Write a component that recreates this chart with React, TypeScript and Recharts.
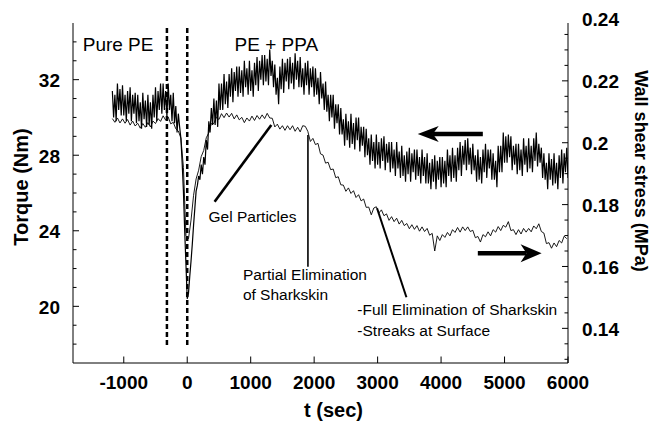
import React from 'react';
import { LineChart, Line, XAxis, YAxis, ReferenceLine, ReferenceDot } from 'recharts';

// Torque trace sampling times (s)
const torqueTimes = [
  -1180, -1160, -1140, -1120, -1100, -1080, -1060, -1040, -1020, -1000, -980, -960, -940, -920, -900, -880, -860, -840, -820, -800,
  -780, -760, -740, -720, -700, -680, -660, -640, -620, -600, -580, -560, -540, -520, -500, -480, -460, -440, -420, -400,
  -380, -360, -340, -320, -300, -280, -260, -240, -220, -200, -180, -160, -140, -120, -100, -80, -60, -40, -20, 0,
  20, 40, 60, 80, 100, 120, 140, 160, 180, 200, 220, 240, 260, 280, 300, 320, 340, 360, 380, 400,
  420, 440, 460, 480, 500, 520, 540, 560, 580, 600, 620, 640, 660, 680, 700, 720, 740, 760, 780, 800,
  820, 840, 860, 880, 900, 920, 940, 960, 980, 1000, 1020, 1040, 1060, 1080, 1100, 1120, 1140, 1160, 1180, 1200,
  1220, 1240, 1260, 1280, 1300, 1320, 1340, 1360, 1380, 1400, 1420, 1440, 1460, 1480, 1500, 1520, 1540, 1560, 1580, 1600,
  1620, 1640, 1660, 1680, 1700, 1720, 1740, 1760, 1780, 1800, 1820, 1840, 1860, 1880, 1900, 1920, 1940, 1960, 1980, 2000,
  2020, 2040, 2060, 2080, 2100, 2120, 2140, 2160, 2180, 2200, 2220, 2240, 2260, 2280, 2300, 2320, 2340, 2360, 2380, 2400,
  2420, 2440, 2460, 2480, 2500, 2520, 2540, 2560, 2580, 2600, 2620, 2640, 2660, 2680, 2700, 2720, 2740, 2760, 2780, 2800,
  2820, 2840, 2860, 2880, 2900, 2920, 2940, 2960, 2980, 3000, 3020, 3040, 3060, 3080, 3100, 3120, 3140, 3160, 3180, 3200,
  3220, 3240, 3260, 3280, 3300, 3320, 3340, 3360, 3380, 3400, 3420, 3440, 3460, 3480, 3500, 3520, 3540, 3560, 3580, 3600,
  3620, 3640, 3660, 3680, 3700, 3720, 3740, 3760, 3780, 3800, 3820, 3840, 3860, 3880, 3900, 3920, 3940, 3960, 3980, 4000,
  4020, 4040, 4060, 4080, 4100, 4120, 4140, 4160, 4180, 4200, 4220, 4240, 4260, 4280, 4300, 4320, 4340, 4360, 4380, 4400,
  4420, 4440, 4460, 4480, 4500, 4520, 4540, 4560, 4580, 4600, 4620, 4640, 4660, 4680, 4700, 4720, 4740, 4760, 4780, 4800,
  4820, 4840, 4860, 4880, 4900, 4920, 4940, 4960, 4980, 5000, 5020, 5040, 5060, 5080, 5100, 5120, 5140, 5160, 5180, 5200,
  5220, 5240, 5260, 5280, 5300, 5320, 5340, 5360, 5380, 5400, 5420, 5440, 5460, 5480, 5500, 5520, 5540, 5560, 5580, 5600,
  5620, 5640, 5660, 5680, 5700, 5720, 5740, 5760, 5780, 5800, 5820, 5840, 5860, 5880, 5900, 5920, 5940, 5960, 5980, 6000,
];

// Torque (Nm), left axis - noisy thick trace
const torque = [
  31.4, 30.0, 31.2, 29.8, 31.8, 30.4, 31.5, 30.1, 31.7, 30.1, 31.2, 29.8, 31.4, 30.2, 31.6, 29.8, 31.2, 30.2, 31.3, 29.7,
  31.2, 29.8, 30.8, 29.4, 31.3, 29.9, 30.9, 29.5, 31.2, 29.6, 30.8, 29.4, 31.2, 30.0, 31.6, 29.8, 31.4, 30.4, 31.8, 30.2,
  31.8, 30.4, 31.4, 30.0, 31.8, 30.4, 31.2, 29.8, 31.3, 29.7, 30.6, 29.2, 30.2, 29.5, 28.9, 27.6, 26.1, 24.0, 22.2, 20.4,
  20.7, 21.6, 22.4, 23.3, 24.3, 25.2, 26.1, 26.4, 26.9, 26.7, 27.5, 27.0, 27.9, 27.5, 28.8, 28.3, 29.8, 29.2, 30.5, 29.6,
  31.0, 29.6, 30.9, 29.5, 31.8, 30.4, 31.8, 30.4, 32.3, 30.7, 31.9, 30.5, 32.3, 31.1, 32.6, 30.8, 32.4, 31.4, 32.7, 31.1,
  32.7, 31.3, 32.5, 31.1, 33.0, 31.6, 32.6, 31.2, 33.0, 31.4, 32.5, 31.1, 32.9, 31.7, 33.2, 31.4, 33.0, 32.0, 33.3, 31.7,
  33.3, 31.9, 33.1, 31.7, 33.6, 32.2, 33.0, 31.6, 32.8, 31.2, 32.1, 30.7, 32.7, 31.5, 33.1, 31.3, 32.9, 31.9, 33.1, 31.5,
  33.2, 31.8, 32.9, 31.5, 33.4, 32.0, 33.0, 31.6, 33.2, 31.6, 32.6, 31.2, 32.9, 31.7, 33.0, 31.2, 32.6, 31.6, 32.7, 31.1,
  32.6, 31.2, 32.1, 30.7, 32.4, 31.0, 31.8, 30.4, 31.9, 30.3, 31.2, 29.8, 31.2, 30.0, 31.2, 29.4, 30.7, 29.7, 30.7, 29.1,
  30.5, 29.1, 29.9, 28.5, 30.2, 28.8, 29.8, 28.4, 30.2, 28.6, 29.7, 28.3, 30.0, 28.8, 30.0, 28.2, 29.5, 28.5, 29.5, 27.9,
  29.4, 28.0, 28.9, 27.5, 29.1, 27.7, 28.7, 27.3, 29.1, 27.5, 28.7, 27.3, 28.9, 27.7, 29.0, 27.2, 28.6, 27.6, 28.7, 27.1,
  28.7, 27.3, 28.3, 26.9, 28.7, 27.3, 28.2, 26.8, 28.5, 26.9, 28.0, 26.6, 28.2, 27.0, 28.4, 26.6, 28.1, 27.1, 28.3, 26.7,
  28.3, 26.9, 27.9, 26.5, 28.3, 26.9, 27.9, 26.5, 28.1, 26.5, 27.6, 26.2, 27.8, 26.6, 28.0, 26.2, 27.7, 26.7, 27.9, 26.3,
  27.9, 26.5, 27.7, 26.3, 28.3, 26.9, 28.0, 26.6, 28.4, 26.8, 28.0, 26.6, 28.4, 27.2, 28.7, 26.9, 28.5, 27.5, 28.8, 27.2,
  28.9, 27.5, 28.4, 27.0, 28.6, 27.2, 28.0, 26.6, 28.3, 26.7, 27.9, 26.5, 28.3, 27.1, 28.6, 26.8, 28.3, 27.3, 28.3, 26.7,
  28.1, 26.7, 27.7, 26.3, 28.5, 27.1, 28.5, 27.1, 29.2, 27.6, 29.0, 27.6, 29.1, 27.9, 29.0, 27.2, 28.5, 27.5, 28.6, 27.0,
  28.6, 27.2, 28.3, 26.9, 28.9, 27.5, 28.5, 27.1, 28.9, 27.3, 28.5, 27.1, 28.9, 27.7, 29.2, 27.4, 28.6, 27.6, 28.4, 26.8,
  28.1, 26.7, 27.6, 26.2, 28.1, 26.7, 27.8, 26.4, 28.1, 26.5, 27.6, 26.2, 28.0, 26.8, 28.3, 26.5, 28.1, 27.1, 28.4, 26.8,
];

// Wall shear stress trace sampling times (s)
const stressTimes = [
  -1180, -1140, -1100, -1060, -1020, -980, -940, -900, -860, -820,
  -780, -740, -700, -660, -620, -580, -540, -500, -460, -420,
  -380, -340, -300, -260, -220, -180, -140, -100, -60, -20,
  20, 60, 100, 140, 180, 220, 260, 300, 340, 380,
  420, 460, 500, 540, 580, 620, 660, 700, 740, 780,
  820, 860, 900, 940, 980, 1020, 1060, 1100, 1140, 1180,
  1220, 1260, 1300, 1340, 1380, 1420, 1460, 1500, 1540, 1580,
  1620, 1660, 1700, 1740, 1780, 1820, 1860, 1900, 1940, 1980,
  2020, 2060, 2100, 2140, 2180, 2220, 2260, 2300, 2340, 2380,
  2420, 2460, 2500, 2540, 2580, 2620, 2660, 2700, 2740, 2780,
  2820, 2860, 2900, 2940, 2980, 3020, 3060, 3100, 3140, 3180,
  3220, 3260, 3300, 3340, 3380, 3420, 3460, 3500, 3540, 3580,
  3620, 3660, 3700, 3740, 3780, 3820, 3860, 3900, 3940, 3980,
  4020, 4060, 4100, 4140, 4180, 4220, 4260, 4300, 4340, 4380,
  4420, 4460, 4500, 4540, 4580, 4620, 4660, 4700, 4740, 4780,
  4820, 4860, 4900, 4940, 4980, 5020, 5060, 5100, 5140, 5180,
  5220, 5260, 5300, 5340, 5380, 5420, 5460, 5500, 5540, 5580,
  5620, 5660, 5700, 5740, 5780, 5820, 5860, 5900, 5940, 5980,
];

// Wall shear stress (MPa), right axis - thin trace
const stress = [
  0.2078, 0.2066, 0.2080, 0.2064, 0.2077, 0.2063, 0.2075, 0.2057, 0.2070, 0.2054,
  0.2063, 0.2047, 0.2062, 0.2050, 0.2065, 0.2051, 0.2070, 0.2062, 0.2078, 0.2069,
  0.2087, 0.2073, 0.2083, 0.2061, 0.2066, 0.2045, 0.2038, 0.2015, 0.1920, 0.1700,
  0.1690, 0.1750, 0.1830, 0.1883, 0.1911, 0.1955, 0.1975, 0.2016, 0.2032, 0.2062,
  0.2062, 0.2083, 0.2075, 0.2094, 0.2081, 0.2096, 0.2083, 0.2095, 0.2077, 0.2090,
  0.2074, 0.2082, 0.2065, 0.2080, 0.2070, 0.2086, 0.2072, 0.2088, 0.2076, 0.2090,
  0.2078, 0.2095, 0.2080, 0.2079, 0.2051, 0.2060, 0.2044, 0.2055, 0.2040, 0.2055,
  0.2042, 0.2055, 0.2037, 0.2050, 0.2035, 0.2055, 0.2053, 0.2037, 0.2004, 0.2014,
  0.1994, 0.1998, 0.1964, 0.1960, 0.1934, 0.1937, 0.1913, 0.1915, 0.1887, 0.1890,
  0.1864, 0.1863, 0.1843, 0.1854, 0.1836, 0.1845, 0.1823, 0.1832, 0.1812, 0.1818,
  0.1791, 0.1792, 0.1767, 0.1789, 0.1793, 0.1773, 0.1783, 0.1764, 0.1770, 0.1749,
  0.1761, 0.1745, 0.1756, 0.1737, 0.1749, 0.1732, 0.1739, 0.1722, 0.1735, 0.1720,
  0.1732, 0.1714, 0.1728, 0.1713, 0.1723, 0.1701, 0.1707, 0.1650, 0.1699, 0.1684,
  0.1703, 0.1694, 0.1710, 0.1699, 0.1719, 0.1710, 0.1726, 0.1711, 0.1728, 0.1716,
  0.1728, 0.1713, 0.1717, 0.1693, 0.1697, 0.1679, 0.1703, 0.1696, 0.1712, 0.1699,
  0.1719, 0.1711, 0.1729, 0.1716, 0.1733, 0.1727, 0.1745, 0.1716, 0.1719, 0.1703,
  0.1719, 0.1705, 0.1723, 0.1711, 0.1723, 0.1712, 0.1731, 0.1722, 0.1738, 0.1713,
  0.1708, 0.1674, 0.1677, 0.1659, 0.1676, 0.1664, 0.1684, 0.1676, 0.1698, 0.1690,
];

const xDomain = [-1800, 6000];
const xTicks = [-1000, 0, 1000, 2000, 3000, 4000, 5000, 6000];
const torqueDomain = [17, 35];
const torqueTicks = [18, 19, 20, 21, 22, 23, 24, 25, 26, 27, 28, 29, 30, 31, 32, 33, 34];
const torqueLabels = [20, 24, 28, 32];
const stressDomain = [0.1288, 0.2387];
const stressTicks = [0.13, 0.135, 0.14, 0.145, 0.15, 0.155, 0.16, 0.165, 0.17, 0.175, 0.18, 0.185, 0.19, 0.195, 0.2, 0.205, 0.21, 0.215, 0.22, 0.225, 0.23, 0.235, 0.24];
const stressLabels = [0.14, 0.16, 0.18, 0.2, 0.22, 0.24];

// dashed boundaries between Pure PE and PE + PPA
const phaseLines = [-320, 0];
const phaseLineSpan = [34.73, 17.85];

const notes = [
  { text: 'Pure PE', t: -1647, v: 33.52, size: 19 },
  { text: 'PE + PPA', t: 746, v: 33.52, size: 19 },
  { text: 'Gel Particles', t: 336, v: 24.47, size: 15.5 },
  { text: 'Partial Elimination', t: 877, v: 21.37, size: 15.5 },
  { text: 'of Sharkskin', t: 877, v: 20.31, size: 15.5 },
  { text: '-Full Elimination of Sharkskin', t: 2681, v: 19.52, size: 15.5 },
  { text: '-Streaks at Surface', t: 2681, v: 18.43, size: 15.5 },
];

const pointers = [
  { t1: 431, v1: 25.54, t2: 1325, v2: 29.6, w: 2.6 },
  { t1: 1902, v1: 29.07, t2: 1902, v2: 22.1, w: 1.6 },
  { t1: 2991, v1: 25.19, t2: 3454, v2: 20.48, w: 2 },
];

const arrows = [
  { t1: 4658, t2: 3632, v: 29.12, halfH: 8 },
  { t1: 4579, t2: 5584, v: 22.81, halfH: 9 },
];

const torqueData = torqueTimes.map((t, i) => ({ t, torque: torque[i] }));
const stressData = stressTimes.map((t, i) => ({ t, stress: stress[i] }));

const FONT = '"Liberation Sans", Arial, Helvetica, sans-serif';
const isIn = (arr: number[], v: number) => arr.some((a) => Math.abs(a - v) < 1e-9);

function LeftTick(props: any) {
  const { x, y, payload } = props;
  const v = payload.value;
  const major = isIn(torqueLabels, v);
  return (
    <g>
      <line x1={x} x2={x + (major ? 6 : 3.5)} y1={y} y2={y} stroke="#000" strokeWidth={1} />
      {major && (
        <text x={x - 13} y={y + 1} textAnchor="end" dominantBaseline="central" fontFamily={FONT} fontWeight="bold" fontSize={19} fill="#000">
          {v}
        </text>
      )}
    </g>
  );
}

function RightTick(props: any) {
  const { x, y, payload } = props;
  const v = payload.value;
  const major = isIn(stressLabels, v);
  const inside = v <= stressDomain[1] && v >= stressDomain[0];
  return (
    <g>
      {inside && <line x1={x} x2={x - (major ? 6 : 3.5)} y1={y} y2={y} stroke="#000" strokeWidth={1} />}
      {major && (
        <text x={x + 14} y={y + 1} textAnchor="start" dominantBaseline="central" fontFamily={FONT} fontWeight="bold" fontSize={19} fill="#000">
          {String(Number(v.toFixed(3)))}
        </text>
      )}
    </g>
  );
}

function BottomTick(props: any) {
  const { x, y, payload } = props;
  return (
    <g>
      <line x1={x} x2={x} y1={y} y2={y - 6.5} stroke="#000" strokeWidth={1} />
      <text x={x} y={y + 19} textAnchor="middle" dominantBaseline="central" fontFamily={FONT} fontWeight="bold" fontSize={19} fill="#000">
        {payload.value}
      </text>
    </g>
  );
}

function TopTick(props: any) {
  const { x, y } = props;
  return <line x1={x} x2={x} y1={y} y2={y + 5.5} stroke="#000" strokeWidth={1} />;
}

function XTitle(p: any) {
  const vb = p.viewBox || { x: 73, y: 363, width: 495, height: 60 };
  return (
    <text x={vb.x + vb.width / 2 + 13} y={vb.y + 54} textAnchor="middle" fontFamily={FONT} fontWeight="bold" fontSize={20} fill="#000">
      t (sec)
    </text>
  );
}

function YLeftTitle(p: any) {
  const vb = p.viewBox || { x: 0, y: 23, width: 73, height: 340 };
  const cx = vb.x + 21;
  const cy = vb.y + vb.height / 2 - 6;
  return (
    <text x={cx} y={cy} transform={`rotate(-90 ${cx} ${cy})`} textAnchor="middle" dominantBaseline="central" fontFamily={FONT} fontWeight="bold" fontSize={20} fill="#000">
      Torque (Nm)
    </text>
  );
}

function YRightTitle(p: any) {
  const vb = p.viewBox || { x: 568, y: 23, width: 83, height: 340 };
  const cx = vb.x + 73;
  const cy = vb.y + 148;
  return (
    <text x={cx} y={cy} transform={`rotate(90 ${cx} ${cy})`} textAnchor="middle" dominantBaseline="central" fontFamily={FONT} fontWeight="bold" fontSize={18} fill="#000">
      Wall shear stress (MPa)
    </text>
  );
}

const noteLabel = (text: string, size: number) => (p: any) => {
  const vb = p.viewBox || { x: 0, y: 0 };
  return (
    <text x={vb.x} y={vb.y} fontFamily={FONT} fontSize={size} fill="#000">
      {text}
    </text>
  );
};

const arrowShape = (halfH: number) => (p: any) => {
  const { x1, y1, x2, y2 } = p;
  const dx = x2 - x1;
  const dy = y2 - y1;
  const L = Math.hypot(dx, dy) || 1;
  const ux = dx / L;
  const uy = dy / L;
  const px = -uy;
  const py = ux;
  const headLen = 21;
  const bx = x2 - ux * headLen;
  const by = y2 - uy * headLen;
  const nx = x2 - ux * headLen * 0.72;
  const ny = y2 - uy * headLen * 0.72;
  return (
    <g>
      <line x1={x1} y1={y1} x2={nx} y2={ny} stroke="#000" strokeWidth={4.5} />
      <polygon
        points={`${x2},${y2} ${bx + px * halfH},${by + py * halfH} ${nx},${ny} ${bx - px * halfH},${by - py * halfH}`}
        fill="#000"
      />
    </g>
  );
};

export default function App() {
  return (
    <div style={{ position: 'absolute', left: 0, top: 0, width: 651, height: 423, background: '#fff' }}>
      <LineChart width={651} height={423} margin={{ top: 23, right: 0, bottom: 0, left: 0 }}>
        <XAxis
          xAxisId="b"
          dataKey="t"
          type="number"
          domain={xDomain}
          allowDataOverflow
          ticks={xTicks}
          interval={0}
          tickLine={false}
          tickSize={0}
          tickMargin={0}
          tick={BottomTick}
          axisLine={{ stroke: '#000', strokeWidth: 1 }}
          height={60}
          label={XTitle}
        />
        <XAxis
          xAxisId="top"
          orientation="top"
          dataKey="t"
          type="number"
          domain={xDomain}
          allowDataOverflow
          ticks={xTicks}
          interval={0}
          tickLine={false}
          tickSize={0}
          tickMargin={0}
          tick={TopTick}
          axisLine={{ stroke: '#000', strokeWidth: 1 }}
          height={0}
        />
        <YAxis
          yAxisId="left"
          type="number"
          domain={torqueDomain}
          allowDataOverflow
          ticks={torqueTicks}
          interval={0}
          width={73}
          tickLine={false}
          tickSize={0}
          tickMargin={0}
          tick={LeftTick}
          axisLine={{ stroke: '#000', strokeWidth: 1 }}
          label={YLeftTitle}
        />
        <YAxis
          yAxisId="right"
          orientation="right"
          type="number"
          domain={stressDomain}
          allowDataOverflow
          ticks={stressTicks}
          interval={0}
          width={83}
          tickLine={false}
          tickSize={0}
          tickMargin={0}
          tick={RightTick}
          axisLine={{ stroke: '#000', strokeWidth: 1 }}
          label={YRightTitle}
        />

        {phaseLines.map((t) => (
          <ReferenceLine
            key={`ph${t}`}
            xAxisId="b"
            yAxisId="left"
            segment={[{ x: t, y: phaseLineSpan[0] }, { x: t, y: phaseLineSpan[1] }]}
            stroke="#000"
            strokeWidth={2.5}
            strokeDasharray="5 3"
          />
        ))}

        <Line data={torqueData} xAxisId="b" yAxisId="left" type="linear" dataKey="torque" stroke="#000" strokeWidth={1.2} dot={false} activeDot={false} isAnimationActive={false} />
        <Line data={stressData} xAxisId="b" yAxisId="right" type="linear" dataKey="stress" stroke="#000" strokeWidth={0.9} dot={false} activeDot={false} isAnimationActive={false} />

        {pointers.map((p, i) => (
          <ReferenceLine
            key={`pt${i}`}
            xAxisId="b"
            yAxisId="left"
            segment={[{ x: p.t1, y: p.v1 }, { x: p.t2, y: p.v2 }]}
            stroke="#000"
            strokeWidth={p.w}
          />
        ))}

        {arrows.map((a, i) => (
          <ReferenceLine
            key={`ar${i}`}
            xAxisId="b"
            yAxisId="left"
            segment={[{ x: a.t1, y: a.v }, { x: a.t2, y: a.v }]}
            stroke="#000"
            shape={arrowShape(a.halfH)}
          />
        ))}

        {notes.map((n, i) => (
          <ReferenceDot
            key={`nt${i}`}
            xAxisId="b"
            yAxisId="left"
            x={n.t}
            y={n.v}
            r={0}
            fill="none"
            stroke="none"
            label={noteLabel(n.text, n.size)}
          />
        ))}
      </LineChart>
    </div>
  );
}
